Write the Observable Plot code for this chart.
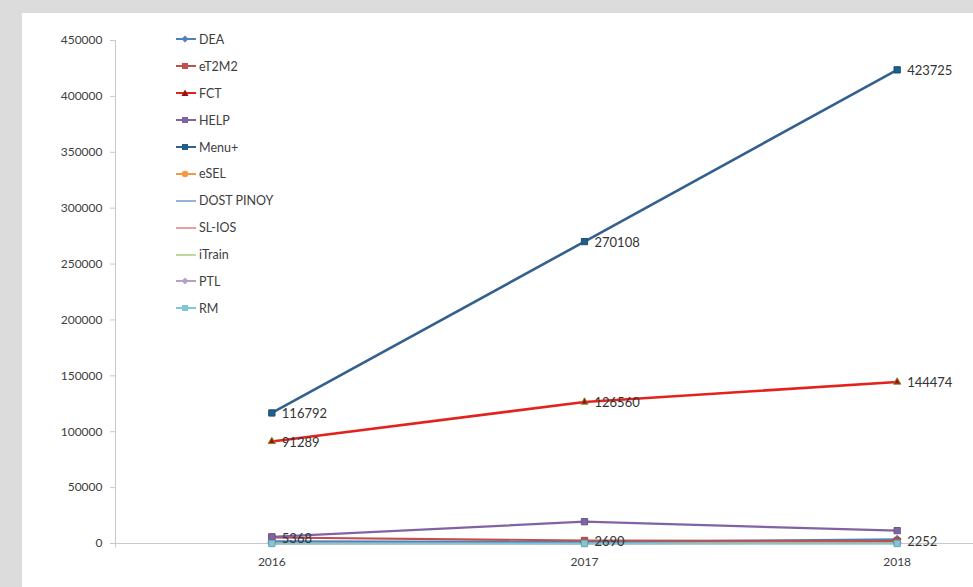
<!DOCTYPE html>
<html><head><meta charset="utf-8">
<script src="https://cdn.jsdelivr.net/npm/d3@7"></script>
<script src="https://cdn.jsdelivr.net/npm/@observablehq/plot@0.6"></script>
<style>
html,body{margin:0;padding:0;background:#dcdcdc;overflow:hidden;width:973px;height:587px;}
#chart{position:absolute;left:22px;top:13px;width:951px;height:574px;background:#fff;}
#chart svg{display:block;}
#legend{position:absolute;left:175px;top:26px;font-family:Lato,"Open Sans",sans-serif;font-size:12.5px;color:#404040;}
.row{height:26.9px;display:flex;align-items:center;}
.row svg{margin-right:2px;}
</style></head>
<body>
<div id="chart"></div><div id="legend"></div>
<script>
const years = [2016, 2017, 2018];
const seriesNames = ["DEA","eT2M2","FCT","HELP","Menu+","eSEL","DOST PINOY","SL-IOS","iTrain","PTL","RM"];
const seriesColors = ["#4f81bd","#c0504d","#e3221d","#8064a2","#33608e","#f79646","#95b3d7","#e6a0a0","#c3d69b","#b3a2c7","#7fc6d9"];
const seriesSymbols = ["diamond2","square2","triangle2","square2","square2","circle",null,null,null,"diamond2","square2"];
const DEA = [2000, 1200, 3800];
const eT2M2 = [5368, 2690, 2252];
const FCT = [91289, 126560, 144474];
const HELP = [6000, 19500, 11500];
const MenuPlus = [116792, 270108, 423725];
const eSEL = [400, 300, 600];
const DOSTPINOY = [300, 200, 400];
const SLIOS = [800, 600, 1500];
const iTrain = [200, 150, 300];
const PTL = [1000, 800, 1200];
const RM = [0, 0, 0];
const seriesValues = [DEA, eT2M2, FCT, HELP, MenuPlus, eSEL, DOSTPINOY, SLIOS, iTrain, PTL, RM];
const labeledSeries = ["Menu+", "FCT", "eT2M2"];
const yTicks = [0,50000,100000,150000,200000,250000,300000,350000,400000,450000];

const rows = [];
seriesNames.forEach((s, i) => years.forEach((y, j) => rows.push({series: s, year: y, value: seriesValues[i][j], idx: i})));
const drawOrder = ["iTrain","SL-IOS","DOST PINOY","PTL","eSEL","DEA","eT2M2","HELP","RM","FCT","Menu+"];
rows.sort((a, b) => drawOrder.indexOf(a.series) - drawOrder.indexOf(b.series));
const colorOf = s => seriesColors[seriesNames.indexOf(s)];
const symOf = s => seriesSymbols[seriesNames.indexOf(s)];

const marks = [
  Plot.ruleY([0], {stroke: "#c8c8c8", strokeWidth: 1}),
  Plot.axisY({ticks: yTicks, tickFormat: d => String(d), label: null, tickSize: 5, tickPadding: 8, stroke: "#c8c8c8", color: "#404040", fontSize: 12}),
  Plot.ruleX([2015.5], {y1: -4000, y2: 450000, stroke: "#c8c8c8"}),
  Plot.axisX({ticks: years, tickFormat: d => String(d), label: null, tickSize: 0, tickPadding: 14, color: "#404040", fontSize: 12})
];
for (const s of drawOrder) {
  const d = rows.filter(r => r.series === s);
  marks.push(Plot.line(d, {x: "year", y: "value", stroke: colorOf(s), strokeWidth: s === "FCT" || s === "Menu+" ? 2.6 : 2.2}));
}
for (const s of drawOrder) {
  const sym = symOf(s);
  if (!sym) continue;
  const d = rows.filter(r => r.series === s);
  const isFCT = s === "FCT";
  const fill = isFCT ? "#9b1010" : (s === "Menu+" ? "#1f5f8b" : colorOf(s));
  marks.push(Plot.dot(d, {x: "year", y: "value", symbol: () => sym, fill, stroke: isFCT ? "#8a8a20" : d3.color(fill).darker(0.5).formatHex(), strokeWidth: 1, r: s === "Menu+" || s === "HELP" || s === "eT2M2" || s === "RM" ? 4 : 3.5}));
}
const labelRows = rows.filter(r => labeledSeries.includes(r.series));
marks.push(Plot.text(labelRows, {x: "year", y: "value", text: d => String(d.value), dx: 10, dy: 1, textAnchor: "start", fill: "#333", fontSize: 13}));

const chart = Plot.plot({
  width: 951, height: 574,
  marginLeft: 93, marginRight: 0, marginTop: 27, marginBottom: 44,
  style: {fontFamily: "Lato, 'Open Sans', sans-serif", background: "#fff", overflow: "hidden"},
  x: {type: "linear", domain: [2015.5, 2018.5], range: [93, 1031], axis: null},
  y: {domain: [0, 450000], range: [530, 27], axis: null},
  marks
});
document.getElementById("chart").appendChild(chart);

const leg = document.getElementById("legend");
seriesNames.forEach((s, i) => {
  const row = document.createElement("div");
  row.className = "row";
  const sym = seriesSymbols[i];
  let symSvg = "";
  const c = seriesColors[i];
  if (sym === "square2") symSvg = `<rect x="7" y="3" width="6" height="6" fill="${s === "Menu+" ? "#1f5f8b" : c}"/>`;
  else if (sym === "diamond2") symSvg = `<path d="M10 2.5 L13.5 6 L10 9.5 L6.5 6Z" fill="${c}"/>`;
  else if (sym === "triangle2") symSvg = `<path d="M10 2.5 L13.5 9 L6.5 9Z" fill="#9b1010"/>`;
  else if (sym === "circle") symSvg = `<circle cx="10" cy="6" r="3.2" fill="${c}"/>`;
  row.innerHTML = `<svg width="22" height="12"><line x1="1" y1="6" x2="21" y2="6" stroke="${c}" stroke-width="2"/>${symSvg}</svg><span>${s}</span>`;
  leg.appendChild(row);
});
</script>
</body></html>
